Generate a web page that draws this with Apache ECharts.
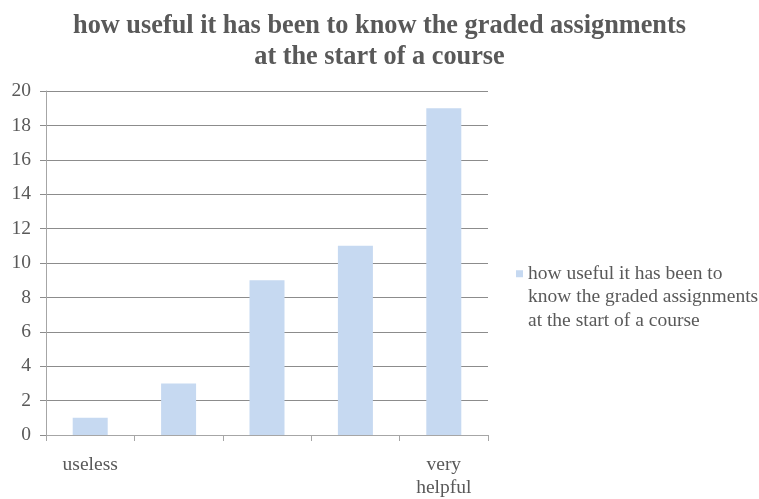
<!DOCTYPE html>
<html>
<head>
<meta charset="utf-8">
<script src="https://cdn.jsdelivr.net/npm/echarts@6/dist/echarts.min.js"></script>
<style>
  html, body { margin: 0; padding: 0; background: #fff; }
  #chart { width: 759px; height: 499px; }
</style>
</head>
<body>
<div id="chart"></div>
<script>
// Survey answers on a 1–5 scale, with only the two end points named
const categories = ['useless', '', '', '', 'very\nhelpful'];
const responses = [1, 3, 9, 11, 19];
const yTicks = { min: 0, max: 20, interval: 2 };

const titleText = 'how useful it has been to know the graded assignments\nat the start of a course';
const seriesName = 'how useful it has been to know the graded assignments at the start of a course';
// two leading blank lines keep the swatch level with the first text line
const legendText = '\n\nhow useful it has been to\nknow the graded assignments\nat the start of a course';

const serif = '"Liberation Serif", "DejaVu Serif", serif';
const textGrey = '#595959';

const chart = echarts.init(document.getElementById('chart'), null, { renderer: 'canvas' });
chart.setOption({
  animation: false,
  backgroundColor: '#ffffff',
  title: {
    text: titleText,
    left: 'center',
    top: 11,
    padding: 0,
    textStyle: {
      fontFamily: serif,
      fontWeight: 'bold',
      fontSize: 26.3,
      lineHeight: 31,
      color: textGrey
    }
  },
  grid: { left: 46, width: 442, top: 91, height: 347, containLabel: false },
  legend: {
    left: 516,
    top: 215,
    padding: 0,
    orient: 'vertical',
    itemWidth: 7,
    itemHeight: 7,
    icon: 'rect',
    formatter: () => legendText,
    textStyle: {
      fontFamily: serif,
      fontSize: 19.5,
      lineHeight: 23.5,
      color: textGrey
    }
  },
  xAxis: {
    type: 'category',
    data: categories,
    axisLine: { lineStyle: { color: '#A6A6A6', width: 1 } },
    axisTick: { show: true, alignWithLabel: false, length: 6, lineStyle: { color: '#A6A6A6' } },
    axisLabel: {
      interval: 0,
      margin: 18,
      fontFamily: serif,
      fontSize: 19.5,
      lineHeight: 23,
      color: textGrey
    }
  },
  yAxis: {
    type: 'value',
    min: yTicks.min,
    max: yTicks.max,
    interval: yTicks.interval,
    axisLine: { show: true, lineStyle: { color: '#A6A6A6', width: 1 } },
    axisTick: { show: true, length: 6, lineStyle: { color: '#8C8C8C' } },
    splitLine: { show: true, lineStyle: { color: '#8C8C8C', width: 1 } },
    axisLabel: {
      margin: 15,
      fontFamily: serif,
      fontSize: 19.5,
      color: textGrey
    }
  },
  series: [{
    name: seriesName,
    type: 'bar',
    data: responses,
    barWidth: 35,
    itemStyle: { color: '#C6D9F1' }
  }]
});
</script>
</body>
</html>
